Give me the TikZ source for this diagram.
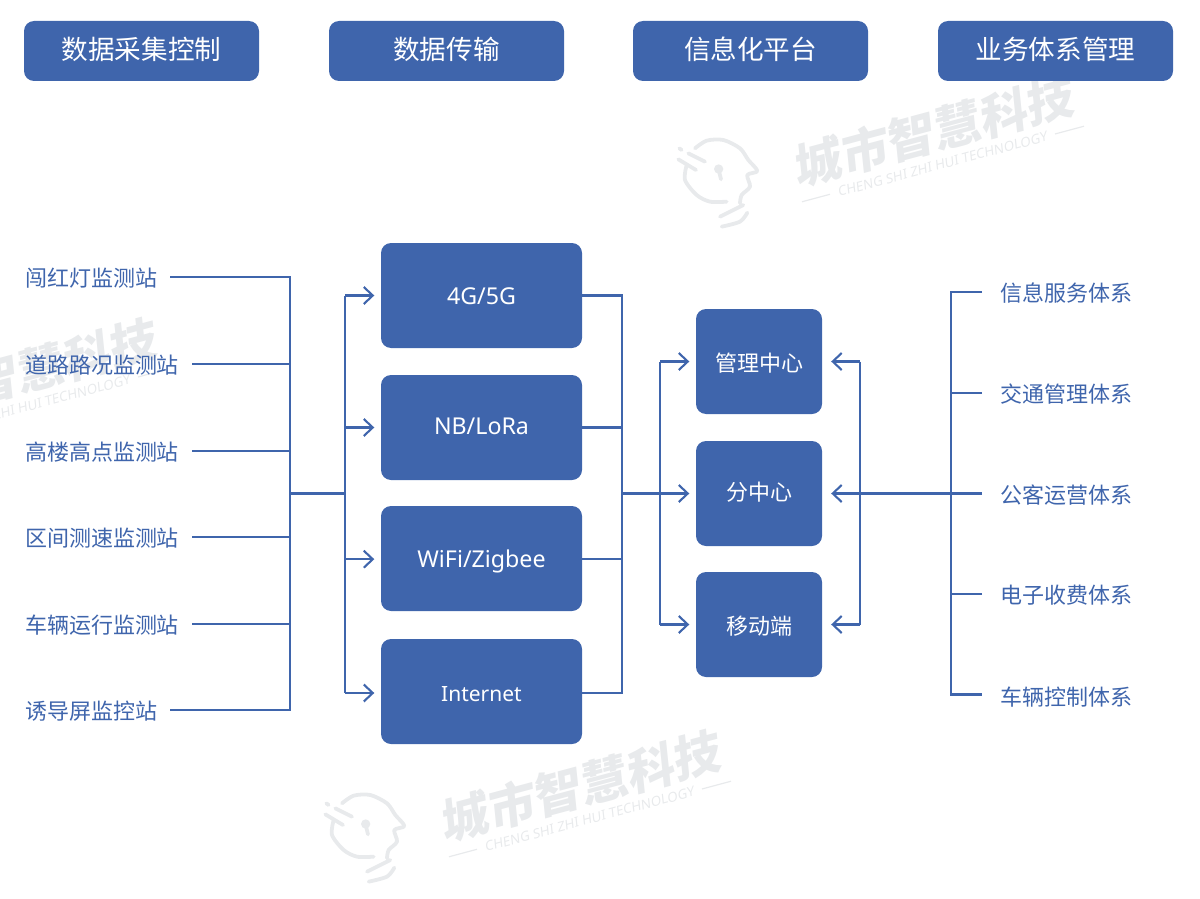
\documentclass[tikz,border=0pt]{standalone}
\usepackage{fontspec}
\setmainfont{Noto Sans CJK SC}
\newfontfamily\latinf{Noto Sans}
\usetikzlibrary{arrows.meta}
\definecolor{brandblue}{HTML}{3F65AC}
\definecolor{markgray}{HTML}{E8EAEC}
\tikzset{
  headbox/.style={fill=brandblue,rounded corners=10pt,minimum width=235pt,minimum height=60pt,text=white,font=\fontsize{26.6}{30}\selectfont,text height=20pt,text depth=3pt,inner sep=0pt},
  netbox/.style={fill=brandblue,rounded corners=10pt,minimum width=201pt,minimum height=105pt,text=white,font=\latinf\fontsize{23.2}{26}\selectfont,text height=21pt,text depth=4pt,inner sep=0pt},
  hubbox/.style={fill=brandblue,rounded corners=10pt,minimum width=126pt,minimum height=105pt,text=white,font=\fontsize{22}{26}\selectfont,text height=24pt,text depth=4pt,inner sep=0pt},
  leftlabel/.style={anchor=west,text=brandblue,font=\fontsize{22}{26}\selectfont,inner sep=0pt,outer xsep=13pt,text height=22pt,text depth=4pt},
  rightlabel/.style={anchor=west,text=brandblue,font=\fontsize{22}{26}\selectfont,inner sep=0pt,outer xsep=18pt,text height=23pt,text depth=4pt},
  wire/.style={draw=brandblue,line width=2.1pt,line join=miter},
  flow/.style={wire,-{Straight Barb[length=9pt,width=17pt,line width=2.1pt]},shorten >=6.5pt},
  markicon/.style={draw=markgray,line width=3.8pt,line cap=round,line join=round},
}
\newcommand{\wmark}[3]{%
  \begin{scope}[xshift=#2pt,yshift=-#3pt]
    \begin{scope}[shift={(935pt,-131pt)},rotate=15,xslant=0.16]
      \node[transform shape,text=markgray,inner sep=0pt,font=\fontsize{48}{52}\selectfont\bfseries] (#1name) at (0,0) {城市智慧科技};
    \end{scope}
    \begin{scope}[shift={(943pt,-164pt)},rotate=15,xslant=0.16]
      \node[transform shape,text=markgray,inner sep=0pt,font=\latinf\fontsize{13.4}{16}\selectfont\bfseries] (#1en) at (0,0) {CHENG SHI ZHI HUI TECHNOLOGY};
      \coordinate (#1a) at (-146pt,0pt);
      \coordinate (#1b) at (-117pt,0pt);
      \coordinate (#1c) at (116pt,0pt);
      \coordinate (#1d) at (146pt,0pt);
      \draw[markgray,line width=1.2pt] (#1a) -- (#1b) (#1c) -- (#1d);
    \end{scope}
    \begin{scope}[shift={(660pt,-120pt)},x=0.3333pt,y=-0.3333pt]
      \draw[markicon] plot[smooth] coordinates {(105,85) (140,62) (190,60) (240,85) (265,120) (292,153) (262,165) (270,200) (245,225) (240,250)};
      \draw[markicon] plot[smooth] coordinates {(80,135) (75,180) (110,225) (150,245) (200,245)};
      \draw[markicon] (180,290) -- (250,255);
      \draw[markicon] plot[smooth] coordinates {(185,320) (240,305) (262,278)};
      \draw[markicon] (58,85) -- (65,90) (85,100) -- (135,125) (55,118) -- (108,150);
      \fill[markgray] (176,147) circle (14);
      \draw[markicon] (176,150) -- (183,178);
    \end{scope}
  \end{scope}}
\begin{document}
\begin{tikzpicture}[x=1pt,y=-1pt]
\useasboundingbox (0,0) rectangle (1200,899);
\begin{scope}
\clip (0,0) rectangle (1200,899);
\wmark{ma}{0}{0}
\wmark{mb}{-353}{655}
\wmark{mc}{-917}{243}
\end{scope}

% headers
\node[headbox] (h1) at (141.5,51) {数据采集控制};
\node[headbox] (h2) at (446.5,51) {数据传输};
\node[headbox] (h3) at (750.5,51) {信息化平台};
\node[headbox] (h4) at (1055.5,51) {业务体系管理};

% left labels
\node[leftlabel] (l1) at (12,277) {闯红灯监测站};
\node[leftlabel] (l2) at (12,364) {道路路况监测站};
\node[leftlabel] (l3) at (12,451) {高楼高点监测站};
\node[leftlabel] (l4) at (12,537) {区间测速监测站};
\node[leftlabel] (l5) at (12,624) {车辆运行监测站};
\node[leftlabel] (l6) at (12,710) {诱导屏监控站};

% network boxes
\node[netbox] (n1) at (481.5,295.5) {4G/5G};
\node[netbox,text height=18pt] (n2) at (481.5,427.5) {NB/LoRa};
\node[netbox] (n3) at (481.5,558.5) {WiFi/Zigbee};
\node[netbox,font=\latinf\fontsize{21}{26}\selectfont,text height=23pt] (n4) at (481.5,691.5) {Internet};

% hub boxes
\node[hubbox] (c1) at (759,361.5) {管理中心};
\node[hubbox,text height=18pt] (c2) at (759,493.5) {分中心};
\node[hubbox] (c3) at (759,624.5) {移动端};

% right labels
\node[rightlabel] (r1) at (982,292) {信息服务体系};
\node[rightlabel] (r2) at (982,393) {交通管理体系};
\node[rightlabel] (r3) at (982,493.5) {公客运营体系};
\node[rightlabel] (r4) at (982,594) {电子收费体系};
\node[rightlabel,text height=26pt] (r5) at (982,694.5) {车辆控制体系};

% routing columns
\coordinate (ta) at (290,493.5);
\coordinate (tb) at (345,493.5);
\coordinate (tc) at (622,493.5);
\coordinate (td) at (660,493.5);
\coordinate (te) at (860,493.5);
\coordinate (tf) at (951,493.5);
\coordinate (n4w) at ([yshift=-1.5pt]n4.west);
\coordinate (n4e) at ([yshift=-1.5pt]n4.east);
\coordinate (n3e) at ([yshift=-.7pt]n3.east);
\coordinate (n3w) at ([yshift=-.7pt]n3.west);

% left bus
\draw[wire] (l1.east) -- (l1.east -| ta) -- (l6.east -| ta) -- (l6.east);
\foreach \n in {l2,l3,l4,l5} \draw[wire] (\n.east) -- (\n.east -| ta);
\draw[wire] (ta) -- (tb);
\draw[wire] (n1.west -| tb) -- (n4w -| tb);
\foreach \n in {n1.west,n2.west,n3w,n4w} \draw[flow] (\n -| tb) -- (\n);

% middle bus
\draw[wire] (n1.east) -- (n1.east -| tc) -- (n4e -| tc) -- (n4e);
\foreach \n in {n2.east,n3e} \draw[wire] (\n) -- (\n -| tc);
\draw[wire] (c1.west -| td) -- (c3.west -| td);
\draw[flow] (tc) -- (c2.west);
\foreach \n in {c1,c3} \draw[flow] (\n.west -| td) -- (\n.west);

% right bus
\draw[wire] (r1.west) -- (r1.west -| tf) -- (r5.west -| tf) -- (r5.west);
\foreach \n in {r2,r4} \draw[wire] (\n.west) -- (\n.west -| tf);
\draw[wire] (c1.east -| te) -- (c3.east -| te);
\draw[flow,shorten >=9pt] (r3.west |- c2.east) -- (c2.east);
\foreach \n in {c1,c3} \draw[flow,shorten >=9pt] (\n.east -| te) -- (\n.east);
\end{tikzpicture}
\end{document}
